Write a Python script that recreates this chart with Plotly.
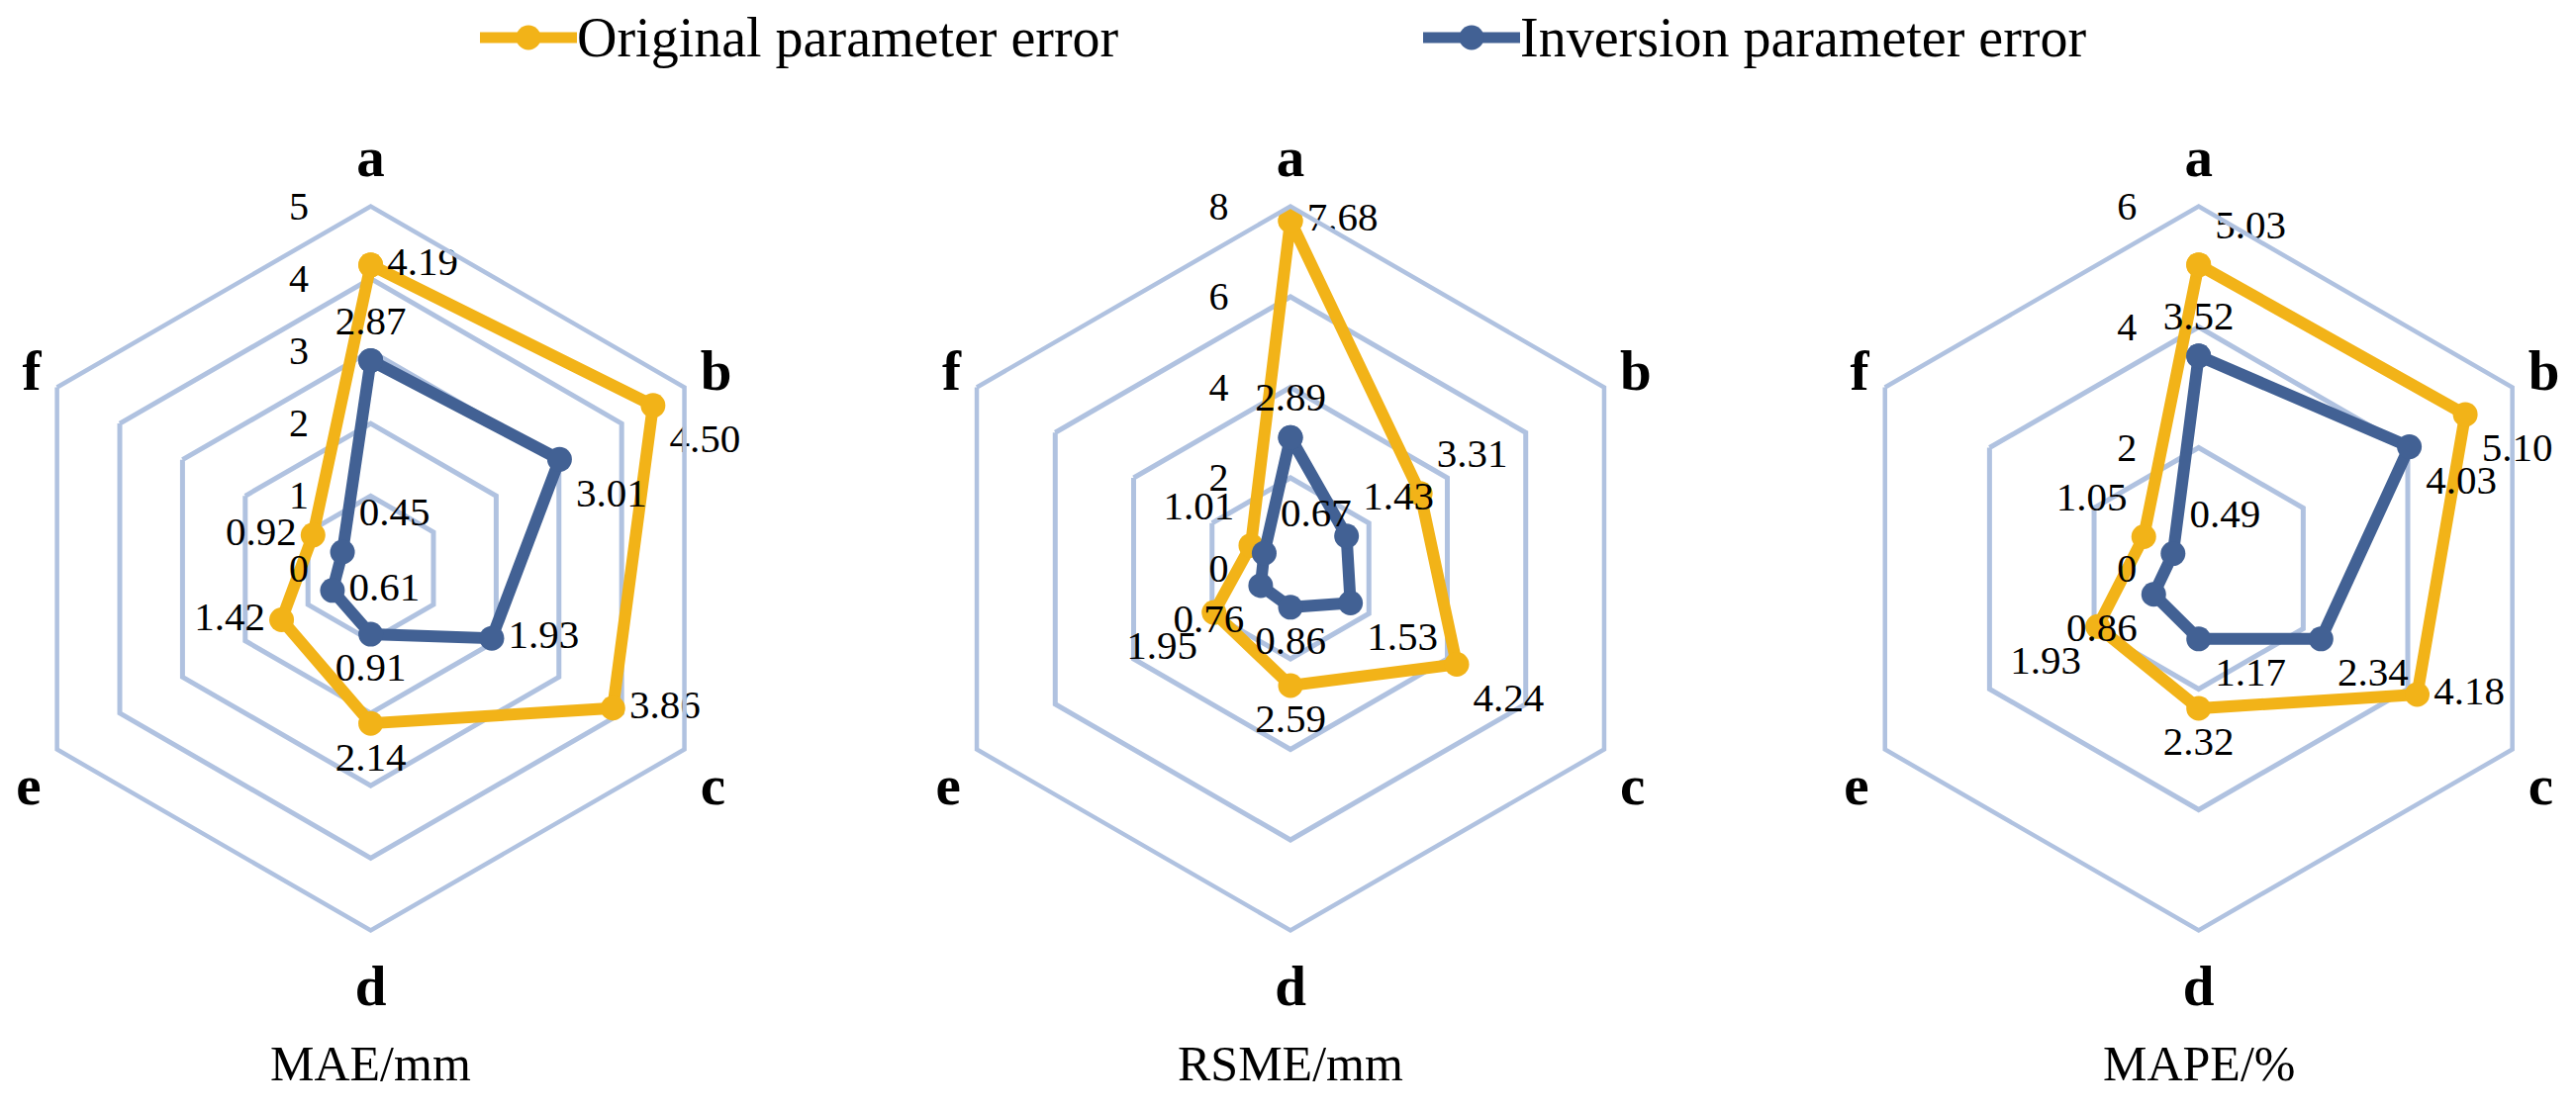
import plotly.graph_objects as go

# ---- datos ----
categorias = ['a', 'b', 'c', 'd', 'e', 'f']

mae_original = [4.19, 4.50, 3.86, 2.14, 1.42, 0.92]
mae_inversion = [2.87, 3.01, 1.93, 0.91, 0.61, 0.45]

rsme_original = [7.68, 3.31, 4.24, 2.59, 1.95, 1.01]
rsme_inversion = [2.89, 1.43, 1.53, 0.86, 0.76, 0.67]

mape_original = [5.03, 5.10, 4.18, 2.32, 1.93, 1.05]
mape_inversion = [3.52, 4.03, 2.34, 1.17, 0.86, 0.49]

titulos = ['MAE/mm', 'RSME/mm', 'MAPE/%']
rangos = [5, 8, 6]
pasos = [1, 2, 2]
nombres = ['Original parameter error', 'Inversion parameter error']

NARANJA = '#F2B318'
AZUL = '#426194'
REJILLA = '#B0C2E0'
FUENTE = 'Liberation Serif'

# posiciones de las etiquetas de datos (una por vértice)
pos_original = [
     ['middle right', 'bottom right', 'middle right', 'bottom center', 'middle left', 'middle left'],
     ['middle right', 'top right', 'bottom right', 'bottom center', 'bottom left', 'top left'],
     ['top right', 'bottom right', 'middle right', 'bottom center', 'bottom left', 'top left'],
]
pos_inversion = [
     ['top center', 'bottom right', 'middle right', 'bottom center', 'middle right', 'top right'],
     ['top center', 'top right', 'bottom right', 'bottom center', 'bottom left', 'top right'],
     ['top center', 'bottom right', 'bottom right', 'bottom right', 'bottom left', 'top right'],
]

series = [
     (mae_original, mae_inversion),
     (rsme_original, rsme_inversion),
     (mape_original, mape_inversion),
]

W, H = 2603, 1123
centros_x = [374.6, 1304.0, 2221.7]  # px
centro_y = 574.5
radio = 366

fig = go.Figure()

for i, (orig, inv) in enumerate(series):
     polar = 'polar' if i == 0 else f'polar{i + 1}'
     for nombre, vals, color, pos in [
          (nombres[0], orig, NARANJA, pos_original[i]),
          (nombres[1], inv, AZUL, pos_inversion[i]),
     ]:
          fig.add_trace(go.Scatterpolar(
               r=vals + vals[:1],
               theta=categorias + categorias[:1],
               text=[f'{v:.2f}' for v in vals] + [''],
               textposition=pos + pos[:1],
               mode='lines+markers+text',
               name=nombre,
               line=dict(color=color, width=12),
               marker=dict(color=color, size=25),
               textfont=dict(family=FUENTE, size=41, color='black'),
               subplot=polar,
               showlegend=False,
               cliponaxis=False,
          ))

     cx = centros_x[i]
     dominio = dict(
          x=[(cx - radio) / W, (cx + radio) / W],
          y=[(H - centro_y - radio) / H, (H - centro_y + radio) / H],
     )
     fig.update_layout(**{polar: dict(
          domain=dominio,
          gridshape='linear',
          bgcolor='white',
          radialaxis=dict(
               range=[0, rangos[i]],
               dtick=pasos[i],
               angle=90,
               tickangle=90,
               side='counterclockwise',
               showline=False,
               gridcolor=REJILLA,
               gridwidth=4.5,
               ticks='outside',
               ticklen=48,
               tickcolor='rgba(0,0,0,0)',
               tickfont=dict(family=FUENTE, size=40, color='black'),
          ),
          angularaxis=dict(
               categoryorder='array',
               categoryarray=categorias,
               direction='clockwise',
               rotation=90,
               showgrid=False,
               showline=True,
               linecolor=REJILLA,
               linewidth=4.5,
               ticks='outside',
               ticklen=5,
               tickcolor='rgba(0,0,0,0)',
               tickfont=dict(family=FUENTE, size=57, color='black', weight='bold'),
          ),
     )})

     fig.add_annotation(
          text=titulos[i],
          x=cx / W, y=(H - 1075) / H,
          xref='paper', yref='paper',
          xanchor='center', yanchor='middle',
          showarrow=False,
          font=dict(family=FUENTE, size=50, color='black'),
     )

# leyenda dibujada a mano (línea larga con marcador, como en el original)
leyenda_x = [485, 1438]
leyenda_y = 38
for nombre, color, x0 in zip(nombres, [NARANJA, AZUL], leyenda_x):
     fig.add_shape(type='line', xref='paper', yref='paper',
                   x0=x0 / W, x1=(x0 + 98) / W,
                   y0=1 - leyenda_y / H, y1=1 - leyenda_y / H,
                   line=dict(color=color, width=11))
     fig.add_shape(type='circle', xref='paper', yref='paper',
                   x0=(x0 + 49 - 12.5) / W, x1=(x0 + 49 + 12.5) / W,
                   y0=1 - (leyenda_y + 12.5) / H, y1=1 - (leyenda_y - 12.5) / H,
                   fillcolor=color, line=dict(width=0))
     fig.add_annotation(text=nombre, xref='paper', yref='paper',
                        x=(x0 + 96) / W, y=1 - leyenda_y / H,
                        xanchor='left', yanchor='middle', showarrow=False,
                        font=dict(family=FUENTE, size=56, color='black'))

fig.update_layout(
     width=W,
     height=H,
     margin=dict(l=0, r=0, t=0, b=0),
     paper_bgcolor='white',
     plot_bgcolor='white',
     showlegend=False,
)

fig.write_html("out.html", config={'displayModeBar': False},
               post_script="document.body.style.margin='0';")
